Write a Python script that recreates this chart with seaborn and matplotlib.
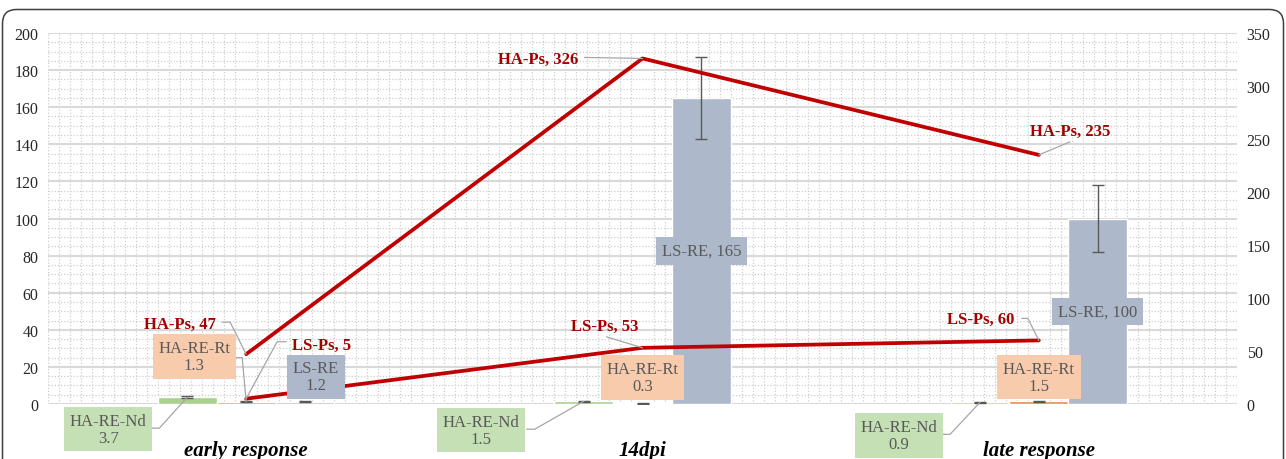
import matplotlib
matplotlib.use('Agg')
import matplotlib.pyplot as plt
import seaborn as sns
import numpy as np
import pandas as pd
from matplotlib.patches import FancyBboxPatch
from matplotlib.transforms import IdentityTransform
from matplotlib.ticker import MultipleLocator

# Data
categories = ['early response', '14dpi', 'late response']
bar_series = ['HA-RE-Nd', 'HA-RE-Rt', 'LS-RE']
ha_re_nd = [3.7, 1.5, 0.9]
ha_re_rt = [1.3, 0.3, 1.5]
ls_re = [1.2, 165, 100]
ha_re_nd_err = [0.4, 0.2, 0.2]
ha_re_rt_err = [0.3, 0.2, 0.3]
ls_re_err = [0.3, 22, 18]
ha_ps = [47, 326, 235]
ls_ps = [5, 53, 60]

bar_colors = ['#A9D18E', '#F08A4B', '#ADB9CA']
box_colors = ['#C5E0B4', '#F8CBAD', '#ADB9CA']
line_color = '#C00000'
label_red = '#A50000'
label_gray = '#595959'
grid_color = '#D9D9D9'
minor_color = '#CFCFCF'

W, H = 1286, 460
AX_L, AX_R, AX_T, AX_B = 48, 1237, 34, 405
PX_PER_CAT = (AX_R - AX_L) / 3
PX_PER_UNIT = (AX_B - AX_T) / 200
RIGHT_SCALE = 200 / 350

sns.set_theme(style='white')
plt.rcParams['font.family'] = ['Liberation Serif', 'DejaVu Serif']

df = pd.DataFrame({
    'category': np.repeat(categories, len(bar_series)),
    'series': bar_series * len(categories),
    'value': np.column_stack([ha_re_nd, ha_re_rt, ls_re]).ravel(),
})

fig = plt.figure(figsize=(W / 100, H / 100), dpi=100)
ax = fig.add_axes([AX_L / W, 1 - AX_B / H, (AX_R - AX_L) / W, (AX_B - AX_T) / H])

group_width = 0.445
sns.barplot(data=df, x='category', y='value', hue='series', order=categories,
            hue_order=bar_series, palette=bar_colors, width=group_width,
            errorbar=None, saturation=1, legend=False, ax=ax)

# error bars on the bars
errs = [ha_re_nd_err, ha_re_rt_err, ls_re_err]
for cont, err in zip(ax.containers, errs):
    for rect, e in zip(cont, err):
        xc = rect.get_x() + rect.get_width() / 2
        ax.errorbar(xc, rect.get_height(), yerr=e, color='#595959', lw=1.0,
                    capsize=4, capthick=1.0, zorder=4)

ax.set_xlim(-0.5, 2.5)
ax.set_ylim(0, 200)
ax.yaxis.set_major_locator(MultipleLocator(20))
ax.yaxis.set_minor_locator(MultipleLocator(5))
ax.xaxis.set_minor_locator(MultipleLocator(1 / 36))
ax.set_axisbelow(True)
ax.grid(False)
ax.grid(which='major', axis='y', color=grid_color, lw=1.5, ls='-')
ax.grid(which='minor', axis='y', color=minor_color, lw=0.9, ls=(0, (1, 1.5)))
ax.grid(which='minor', axis='x', color=minor_color, lw=0.9, ls=(0, (1, 1.5)))
for s in ax.spines.values():
    s.set_visible(False)
ax.set_xlabel('')
ax.set_ylabel('')
ax.tick_params(axis='y', which='both', length=0, pad=7, labelsize=11.5, labelcolor='#262626')
ax.tick_params(axis='x', which='both', length=0, pad=26)
ax.set_xticks(range(len(categories)))
ax.set_xticklabels(categories, fontsize=15, fontweight='bold', fontstyle='italic', color='black')

# secondary axis with the two lines
ax2 = ax.twinx()
xpos = np.arange(len(categories))
sns.lineplot(x=xpos, y=ha_ps, ax=ax2, color=line_color, lw=2.7)
sns.lineplot(x=xpos, y=ls_ps, ax=ax2, color=line_color, lw=2.7)
ax2.set_ylim(0, 350)
ax2.set_xlim(-0.5, 2.5)
ax2.yaxis.set_major_locator(MultipleLocator(50))
ax2.grid(False)
for s in ax2.spines.values():
    s.set_visible(False)
ax2.tick_params(axis='y', length=0, pad=7, labelsize=11.5, labelcolor='#262626')
ax2.set_ylabel('')


def off(anchor, dx, dy):
    # shift a data point by reference pixels (dy downwards)
    return anchor[0] + dx / PX_PER_CAT, anchor[1] - dy / PX_PER_UNIT


def leader(anchor, pts):
    xs, ys = zip(*[off(anchor, dx, dy) for dx, dy in pts] + [anchor])
    ax2.plot(xs, ys, transform=ax.transData, color='#A6A6A6', lw=0.9,
             clip_on=False, zorder=5)


def box_label(anchor, dx, dy, text, color):
    x, y = off(anchor, dx, dy)
    ax2.text(x, y, text, transform=ax.transData, ha='center', va='center',
             fontsize=12, color=label_gray, linespacing=1.1, clip_on=False, zorder=6,
             bbox=dict(boxstyle='square,pad=0.34', fc=color, ec='none'))


def red_label(anchor, dx, dy, text, ha):
    x, y = off(anchor, dx, dy)
    ax2.text(x, y, text, transform=ax.transData, ha=ha, va='center',
             fontsize=12, fontweight='bold', color=label_red, zorder=6)


# bar anchors (top of bar) and line anchors in left-axis units
bar_w = group_width / len(bar_series)
bar_vals = [ha_re_nd, ha_re_rt, ls_re]
bar_top = {(j, i): (i + (j - 1) * bar_w, bar_vals[j][i])
           for j in range(3) for i in range(3)}
ha_pt = [(i, v * RIGHT_SCALE) for i, v in enumerate(ha_ps)]
ls_pt = [(i, v * RIGHT_SCALE) for i, v in enumerate(ls_ps)]

# HA-RE-Nd labels (below axis with leaders)
for i, (dx, dy) in enumerate([(-79, 32), (-103, 29), (-81, 33)]):
    a = bar_top[(0, i)]
    box_label(a, dx, dy, f'HA-RE-Nd\n{ha_re_nd[i]}', box_colors[0])
    edge = dx + 43 if i != 1 else dx + 46
    leader(a, [(edge, dy - 1), (edge + 8, dy - 1)])

# HA-RE-Rt labels
a = bar_top[(1, 0)]
box_label(a, -52, -45, f'HA-RE-Rt\n{ha_re_rt[0]}', box_colors[1])
leader(a, [(-11, -44), (-4, -44)])
box_label(bar_top[(1, 1)], 0, -26, f'HA-RE-Rt\n{ha_re_rt[1]}', box_colors[1])
box_label(bar_top[(1, 2)], 0, -24, f'HA-RE-Rt\n{ha_re_rt[2]}', box_colors[1])

# LS-RE labels
box_label(bar_top[(2, 0)], 11, -25, f'LS-RE\n{ls_re[0]}', box_colors[2])
for i in (1, 2):
    x, v = bar_top[(2, i)]
    box_label((x, v / 2), 0, 0, f'LS-RE, {ls_re[i]}', box_colors[2])

# line labels
red_label(ha_pt[0], -30, -30, f'HA-Ps, {ha_ps[0]}', 'right')
leader(ha_pt[0], [(-24, -32), (-16, -32)])
red_label(ha_pt[1], -64, 0, f'HA-Ps, {ha_ps[1]}', 'right')
leader(ha_pt[1], [(-58, -1)])
red_label(ha_pt[2], 31, -24, f'HA-Ps, {ha_ps[2]}', 'center')
leader(ha_pt[2], [(31, -13)])

red_label(ls_pt[0], 46, -54, f'LS-Ps, {ls_ps[0]}', 'left')
leader(ls_pt[0], [(40, -57), (31, -57)])
red_label(ls_pt[1], -38, -22, f'LS-Ps, {ls_ps[1]}', 'center')
leader(ls_pt[1], [(-36, -11)])
red_label(ls_pt[2], -24, -22, f'LS-Ps, {ls_ps[2]}', 'right')
leader(ls_pt[2], [(-17, -22), (-11, -22)])

# rounded frame around the figure
frame = FancyBboxPatch((2.5, -30), 1281, 479.5, boxstyle='round,pad=0,rounding_size=14',
                       transform=IdentityTransform(), fc='none', ec='#404040', lw=1.1)
fig.add_artist(frame)

fig.savefig('out.png', dpi=100)
